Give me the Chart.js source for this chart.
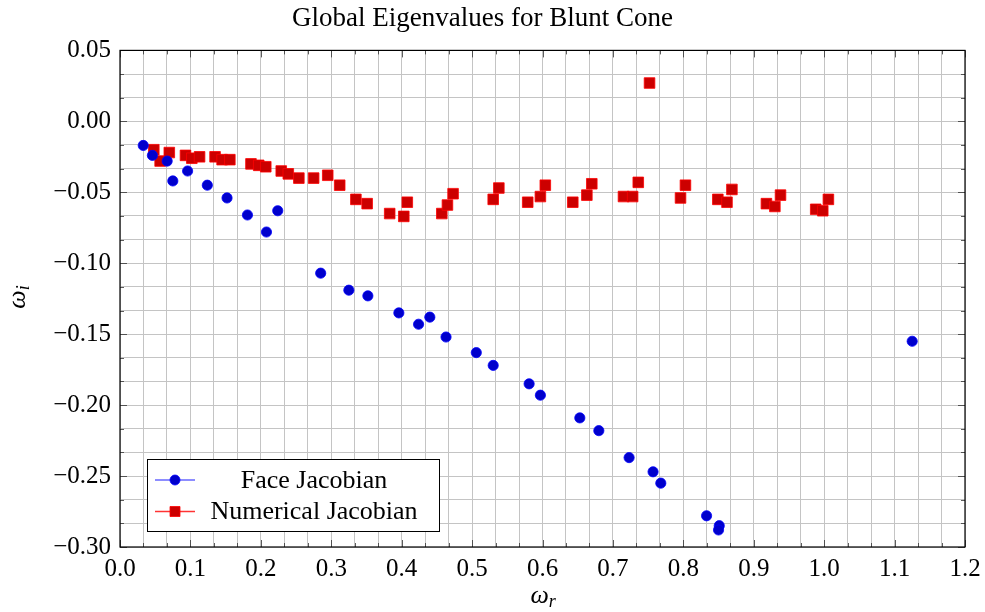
<!DOCTYPE html>
<html lang="en">
<head>
<meta charset="UTF-8">
<title>Global Eigenvalues for Blunt Cone</title>
<script src="https://cdn.jsdelivr.net/npm/chart.js@4.4.1/dist/chart.umd.min.js"></script>
<style>
  html, body { margin: 0; padding: 0; background: #fff; }
  #wrap { width: 985px; height: 612px; }
</style>
</head>
<body>
<div id="wrap"><canvas id="myChart" width="985" height="612"></canvas></div>
<script>
// Face Jacobian eigenvalues (real, imaginary parts)
var faceRe = [0.033, 0.046, 0.067, 0.075, 0.096, 0.124, 0.152, 0.181, 0.224, 0.208,
              0.285, 0.325, 0.352, 0.396, 0.424, 0.440, 0.463, 0.506, 0.530, 0.581,
              0.597, 0.653, 0.680, 0.723, 0.757, 0.768, 0.833, 0.851, 0.850, 1.125];
var faceIm = [-0.017, -0.024, -0.028, -0.042, -0.035, -0.045, -0.054, -0.066, -0.063, -0.078,
              -0.107, -0.119, -0.123, -0.135, -0.143, -0.138, -0.152, -0.163, -0.172, -0.185,
              -0.193, -0.209, -0.218, -0.237, -0.247, -0.255, -0.278, -0.285, -0.288, -0.155];

// Numerical Jacobian eigenvalues
var numRe = [0.048, 0.057, 0.070, 0.093, 0.102, 0.113, 0.135, 0.145, 0.156, 0.186,
             0.197, 0.207, 0.229, 0.239, 0.254, 0.275, 0.295, 0.312, 0.335, 0.351,
             0.383, 0.403, 0.408, 0.457, 0.465, 0.473, 0.530, 0.538, 0.579, 0.597,
             0.604, 0.643, 0.663, 0.670, 0.715, 0.728, 0.736, 0.752, 0.796, 0.803,
             0.849, 0.862, 0.869, 0.918, 0.930, 0.938, 0.988, 0.998, 1.006];
var numIm = [-0.020, -0.028, -0.022, -0.024, -0.026, -0.025, -0.025, -0.027, -0.027, -0.030,
             -0.031, -0.032, -0.035, -0.037, -0.040, -0.040, -0.038, -0.045, -0.055, -0.058,
             -0.065, -0.067, -0.057, -0.065, -0.059, -0.051, -0.055, -0.047, -0.057, -0.053,
             -0.045, -0.057, -0.052, -0.044, -0.053, -0.053, -0.043, 0.027, -0.054, -0.045,
             -0.055, -0.057, -0.048, -0.058, -0.060, -0.052, -0.062, -0.063, -0.055];

var seriesNames = ['Face Jacobian', 'Numerical Jacobian'];
var xMajor = [0.0, 0.1, 0.2, 0.3, 0.4, 0.5, 0.6, 0.7, 0.8, 0.9, 1.0, 1.1, 1.2];
var yMajor = [-0.30, -0.25, -0.20, -0.15, -0.10, -0.05, 0.00, 0.05];

var FONT = '"Liberation Serif", "Times New Roman", serif';

function toPoints(xs, ys) {
    var pts = [];
    for (var i = 0; i < xs.length; i++) pts.push({ x: xs[i], y: ys[i] });
    return pts;
}

// major ticks plus two minor ticks in between (pgfplots style)
function withMinor(majors) {
    var out = [];
    for (var i = 0; i < majors.length - 1; i++) {
        var a = majors[i], b = majors[i + 1];
        out.push({ value: a }, { value: a + (b - a) / 3 }, { value: a + 2 * (b - a) / 3 });
    }
    out.push({ value: majors[majors.length - 1] });
    return out;
}

function fmtY(v) {
    var r = Math.round(v * 100) / 100;
    return (r < 0 ? '\u2212' : '') + Math.abs(r).toFixed(2);
}

var framePlugin = {
    id: 'frame',
    afterDraw: function (chart) {
        var ctx = chart.ctx, a = chart.chartArea;
        var xs = chart.scales.x, ys = chart.scales.y;
        ctx.save();

        // inner tick marks on all four sides
        ctx.strokeStyle = '#333';
        ctx.lineWidth = 0.8;
        ctx.beginPath();
        xs.ticks.forEach(function (t, i) {
            var px = Math.round(xs.getPixelForValue(t.value)) + 0.5;
            var len = i % 3 === 0 ? 7 : 4;
            ctx.moveTo(px, a.bottom); ctx.lineTo(px, a.bottom - len);
            ctx.moveTo(px, a.top); ctx.lineTo(px, a.top + len);
        });
        ys.ticks.forEach(function (t, i) {
            var py = Math.round(ys.getPixelForValue(t.value)) + 0.5;
            var len = i % 3 === 0 ? 7 : 4;
            ctx.moveTo(a.left, py); ctx.lineTo(a.left + len, py);
            ctx.moveTo(a.right, py); ctx.lineTo(a.right - len, py);
        });
        ctx.stroke();

        // axis box
        ctx.strokeStyle = '#000';
        ctx.lineWidth = 1.2;
        ctx.strokeRect(a.left, a.top, a.right - a.left, a.bottom - a.top);

        // legend
        var lx = a.left + 27, ly = a.bottom - 88, lw = 292, lh = 72;
        ctx.fillStyle = '#fff';
        ctx.fillRect(lx, ly, lw, lh);
        ctx.lineWidth = 1;
        ctx.strokeStyle = '#000';
        ctx.strokeRect(lx + 0.5, ly + 0.5, lw, lh);

        var rows = [
            { y: ly + 21, line: 'rgba(0,0,255,0.6)', fill: '#0000cc', edge: '#0000ff', shape: 'circle' },
            { y: ly + 52.5, line: 'rgba(255,0,0,0.8)', fill: '#cc0000', edge: '#ff0000', shape: 'square' }
        ];
        rows.forEach(function (r, i) {
            ctx.strokeStyle = r.line;
            ctx.lineWidth = 1.4;
            ctx.beginPath();
            ctx.moveTo(lx + 8, r.y); ctx.lineTo(lx + 48, r.y);
            ctx.stroke();
            ctx.fillStyle = r.fill;
            ctx.strokeStyle = r.edge;
            ctx.lineWidth = 0.8;
            ctx.beginPath();
            if (r.shape === 'circle') ctx.arc(lx + 28, r.y, 5, 0, Math.PI * 2);
            else ctx.rect(lx + 23, r.y - 5, 10, 10);
            ctx.fill(); ctx.stroke();
            ctx.fillStyle = '#000';
            ctx.font = '26px ' + FONT;
            ctx.textAlign = 'center';
            ctx.textBaseline = 'alphabetic';
            ctx.fillText(seriesNames[i], lx + 167, r.y + 7.5);
        });

        // axis labels: omega_r and omega_i
        ctx.fillStyle = '#000';
        ctx.textAlign = 'left';
        ctx.textBaseline = 'alphabetic';
        var cx = (a.left + a.right) / 2;
        ctx.font = 'italic 26px ' + FONT;
        var w = ctx.measureText('\u03c9').width;
        ctx.fillText('\u03c9', cx - 12, 603);
        ctx.font = 'italic 18px ' + FONT;
        ctx.fillText('r', cx - 12 + w, 607);

        ctx.translate(25, (a.top + a.bottom) / 2);
        ctx.rotate(-Math.PI / 2);
        ctx.font = 'italic 26px ' + FONT;
        ctx.fillText('\u03c9', -10, 0);
        ctx.font = 'italic 18px ' + FONT;
        ctx.fillText('i', -10 + w, 4);

        ctx.restore();
    }
};

var chart = new Chart(document.getElementById('myChart').getContext('2d'), {
    type: 'scatter',
    data: {
        datasets: [
            {
                label: seriesNames[0],
                data: toPoints(faceRe, faceIm),
                pointStyle: 'circle',
                pointRadius: 5.1,
                pointBackgroundColor: '#0000cc',
                pointBorderColor: '#0000ff',
                pointBorderWidth: 0.8,
                showLine: false
            },
            {
                label: seriesNames[1],
                data: toPoints(numRe, numIm),
                pointStyle: 'rect',
                pointRadius: 7.5,
                pointBackgroundColor: '#cc0000',
                pointBorderColor: '#ff0000',
                pointBorderWidth: 0.8,
                showLine: false
            }
        ]
    },
    options: {
        responsive: false,
        animation: false,
        layout: { padding: { left: 0, right: 20, top: 0, bottom: 0 } },
        plugins: {
            legend: { display: false },
            tooltip: { enabled: false },
            title: {
                display: true,
                text: 'Global Eigenvalues for Blunt Cone',
                color: '#000',
                font: { family: FONT, size: 27, weight: 'normal' },
                padding: { top: 3, bottom: 15 }
            }
        },
        scales: {
            x: {
                type: 'linear',
                min: 0,
                max: 1.2,
                afterBuildTicks: function (s) { s.ticks = withMinor(xMajor); },
                afterFit: function (s) { s.height = 65; s.paddingLeft = 0; s.paddingRight = 0; },
                grid: { color: '#c4c4c4', lineWidth: 1, drawTicks: false },
                border: { display: false },
                ticks: {
                    autoSkip: false,
                    maxRotation: 0,
                    minRotation: 0,
                    padding: 7,
                    color: '#000',
                    font: { family: FONT, size: 25 },
                    callback: function (v, i) { return i % 3 === 0 ? v.toFixed(1) : ''; }
                }
            },
            y: {
                type: 'linear',
                min: -0.30,
                max: 0.05,
                afterBuildTicks: function (s) { s.ticks = withMinor(yMajor); },
                afterFit: function (s) { s.width = 120; s.paddingTop = 0; s.paddingBottom = 0; },
                grid: { color: '#c4c4c4', lineWidth: 1, drawTicks: false },
                border: { display: false },
                ticks: {
                    autoSkip: false,
                    padding: 9,
                    color: '#000',
                    font: { family: FONT, size: 25 },
                    callback: function (v, i) { return i % 3 === 0 ? fmtY(v) : ''; }
                }
            }
        }
    },
    plugins: [framePlugin]
});
</script>
</body>
</html>
